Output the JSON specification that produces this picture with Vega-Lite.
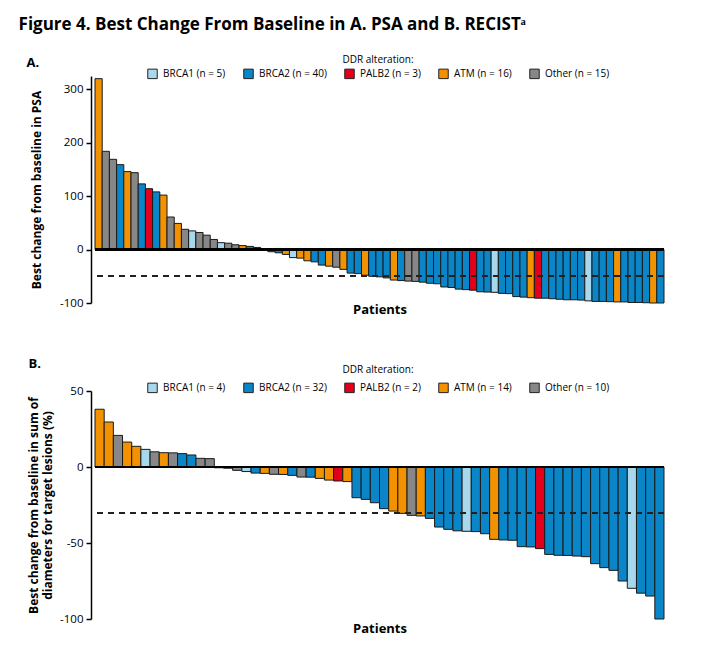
{
  "$schema": "https://vega.github.io/schema/vega-lite/v6.json",
  "padding": {"left": 18, "top": 16, "right": 10, "bottom": 5},
  "title": {"text": "Figure 4. Best Change From Baseline in A. PSA and B. RECISTᵃ", "anchor": "start", "frame": "bounds", "fontSize": 17, "fontWeight": "bold", "font": "Open Sans", "color": "#000", "offset": 21, "dx": -8},
  "datasets": {
    "psa": [
      {"patient": 1, "alteration": "ATM", "change": 320},
      {"patient": 2, "alteration": "Other", "change": 184},
      {"patient": 3, "alteration": "Other", "change": 169},
      {"patient": 4, "alteration": "BRCA2", "change": 159},
      {"patient": 5, "alteration": "ATM", "change": 146},
      {"patient": 6, "alteration": "Other", "change": 144},
      {"patient": 7, "alteration": "BRCA2", "change": 123},
      {"patient": 8, "alteration": "PALB2", "change": 114},
      {"patient": 9, "alteration": "BRCA2", "change": 108},
      {"patient": 10, "alteration": "ATM", "change": 102},
      {"patient": 11, "alteration": "Other", "change": 61},
      {"patient": 12, "alteration": "ATM", "change": 49},
      {"patient": 13, "alteration": "Other", "change": 38},
      {"patient": 14, "alteration": "BRCA1", "change": 35},
      {"patient": 15, "alteration": "Other", "change": 32},
      {"patient": 16, "alteration": "Other", "change": 27},
      {"patient": 17, "alteration": "Other", "change": 19},
      {"patient": 18, "alteration": "BRCA1", "change": 13},
      {"patient": 19, "alteration": "Other", "change": 12},
      {"patient": 20, "alteration": "Other", "change": 9},
      {"patient": 21, "alteration": "ATM", "change": 7.5},
      {"patient": 22, "alteration": "BRCA2", "change": 6},
      {"patient": 23, "alteration": "Other", "change": 4},
      {"patient": 24, "alteration": "ATM", "change": -0.5},
      {"patient": 25, "alteration": "Other", "change": -4},
      {"patient": 26, "alteration": "BRCA2", "change": -6},
      {"patient": 27, "alteration": "ATM", "change": -9},
      {"patient": 28, "alteration": "BRCA1", "change": -15},
      {"patient": 29, "alteration": "ATM", "change": -16},
      {"patient": 30, "alteration": "ATM", "change": -21},
      {"patient": 31, "alteration": "BRCA2", "change": -23},
      {"patient": 32, "alteration": "BRCA2", "change": -29},
      {"patient": 33, "alteration": "ATM", "change": -31},
      {"patient": 34, "alteration": "Other", "change": -33},
      {"patient": 35, "alteration": "ATM", "change": -37},
      {"patient": 36, "alteration": "BRCA2", "change": -44},
      {"patient": 37, "alteration": "BRCA2", "change": -45},
      {"patient": 38, "alteration": "ATM", "change": -48},
      {"patient": 39, "alteration": "BRCA2", "change": -50},
      {"patient": 40, "alteration": "BRCA2", "change": -51},
      {"patient": 41, "alteration": "BRCA2", "change": -53},
      {"patient": 42, "alteration": "ATM", "change": -57},
      {"patient": 43, "alteration": "BRCA2", "change": -58},
      {"patient": 44, "alteration": "Other", "change": -59},
      {"patient": 45, "alteration": "Other", "change": -59.5},
      {"patient": 46, "alteration": "BRCA2", "change": -61},
      {"patient": 47, "alteration": "BRCA2", "change": -63},
      {"patient": 48, "alteration": "BRCA2", "change": -64},
      {"patient": 49, "alteration": "BRCA2", "change": -70},
      {"patient": 50, "alteration": "BRCA2", "change": -71},
      {"patient": 51, "alteration": "BRCA2", "change": -74},
      {"patient": 52, "alteration": "BRCA2", "change": -75},
      {"patient": 53, "alteration": "PALB2", "change": -76},
      {"patient": 54, "alteration": "BRCA2", "change": -79},
      {"patient": 55, "alteration": "BRCA2", "change": -79.5},
      {"patient": 56, "alteration": "BRCA1", "change": -80},
      {"patient": 57, "alteration": "BRCA2", "change": -82},
      {"patient": 58, "alteration": "BRCA2", "change": -82.5},
      {"patient": 59, "alteration": "BRCA2", "change": -88},
      {"patient": 60, "alteration": "BRCA2", "change": -89},
      {"patient": 61, "alteration": "ATM", "change": -90},
      {"patient": 62, "alteration": "PALB2", "change": -91},
      {"patient": 63, "alteration": "BRCA2", "change": -91},
      {"patient": 64, "alteration": "BRCA2", "change": -92},
      {"patient": 65, "alteration": "BRCA2", "change": -93},
      {"patient": 66, "alteration": "BRCA2", "change": -94},
      {"patient": 67, "alteration": "BRCA2", "change": -94},
      {"patient": 68, "alteration": "BRCA2", "change": -94.5},
      {"patient": 69, "alteration": "BRCA1", "change": -96},
      {"patient": 70, "alteration": "BRCA2", "change": -97},
      {"patient": 71, "alteration": "BRCA2", "change": -97},
      {"patient": 72, "alteration": "BRCA2", "change": -97.5},
      {"patient": 73, "alteration": "ATM", "change": -98},
      {"patient": 74, "alteration": "BRCA2", "change": -98},
      {"patient": 75, "alteration": "BRCA2", "change": -99},
      {"patient": 76, "alteration": "BRCA2", "change": -99},
      {"patient": 77, "alteration": "BRCA2", "change": -99.5},
      {"patient": 78, "alteration": "ATM", "change": -100},
      {"patient": 79, "alteration": "BRCA2", "change": -100}
    ],
    "recist": [
      {"patient": 1, "alteration": "ATM", "change": 38},
      {"patient": 2, "alteration": "ATM", "change": 29.6},
      {"patient": 3, "alteration": "Other", "change": 20.8},
      {"patient": 4, "alteration": "ATM", "change": 16.4},
      {"patient": 5, "alteration": "ATM", "change": 13.6},
      {"patient": 6, "alteration": "BRCA1", "change": 11.6},
      {"patient": 7, "alteration": "Other", "change": 10},
      {"patient": 8, "alteration": "ATM", "change": 9.4},
      {"patient": 9, "alteration": "Other", "change": 9.3},
      {"patient": 10, "alteration": "BRCA2", "change": 8.8},
      {"patient": 11, "alteration": "BRCA2", "change": 7.9},
      {"patient": 12, "alteration": "Other", "change": 5.7},
      {"patient": 13, "alteration": "Other", "change": 5.5},
      {"patient": 14, "alteration": "Other", "change": -0.5},
      {"patient": 15, "alteration": "BRCA2", "change": -0.8},
      {"patient": 16, "alteration": "Other", "change": -2.2},
      {"patient": 17, "alteration": "BRCA1", "change": -3},
      {"patient": 18, "alteration": "BRCA2", "change": -4},
      {"patient": 19, "alteration": "ATM", "change": -4.2},
      {"patient": 20, "alteration": "Other", "change": -4.8},
      {"patient": 21, "alteration": "ATM", "change": -4.9},
      {"patient": 22, "alteration": "BRCA2", "change": -5.5},
      {"patient": 23, "alteration": "Other", "change": -6.6},
      {"patient": 24, "alteration": "BRCA2", "change": -6.7},
      {"patient": 25, "alteration": "ATM", "change": -7.5},
      {"patient": 26, "alteration": "ATM", "change": -8.6},
      {"patient": 27, "alteration": "PALB2", "change": -9.2},
      {"patient": 28, "alteration": "ATM", "change": -9.6},
      {"patient": 29, "alteration": "BRCA2", "change": -20.2},
      {"patient": 30, "alteration": "BRCA2", "change": -21.3},
      {"patient": 31, "alteration": "BRCA2", "change": -23.5},
      {"patient": 32, "alteration": "BRCA2", "change": -27.4},
      {"patient": 33, "alteration": "ATM", "change": -29},
      {"patient": 34, "alteration": "ATM", "change": -30.5},
      {"patient": 35, "alteration": "Other", "change": -31.8},
      {"patient": 36, "alteration": "ATM", "change": -32.2},
      {"patient": 37, "alteration": "BRCA2", "change": -33.8},
      {"patient": 38, "alteration": "BRCA2", "change": -39.5},
      {"patient": 39, "alteration": "BRCA2", "change": -41},
      {"patient": 40, "alteration": "BRCA2", "change": -42},
      {"patient": 41, "alteration": "BRCA1", "change": -42.3},
      {"patient": 42, "alteration": "BRCA2", "change": -42.5},
      {"patient": 43, "alteration": "BRCA2", "change": -43.9},
      {"patient": 44, "alteration": "ATM", "change": -47.6},
      {"patient": 45, "alteration": "BRCA2", "change": -48},
      {"patient": 46, "alteration": "BRCA2", "change": -48.2},
      {"patient": 47, "alteration": "BRCA2", "change": -52.4},
      {"patient": 48, "alteration": "BRCA2", "change": -52.6},
      {"patient": 49, "alteration": "PALB2", "change": -53.7},
      {"patient": 50, "alteration": "BRCA2", "change": -57.5},
      {"patient": 51, "alteration": "BRCA2", "change": -58.1},
      {"patient": 52, "alteration": "BRCA2", "change": -58.2},
      {"patient": 53, "alteration": "BRCA2", "change": -58.6},
      {"patient": 54, "alteration": "BRCA2", "change": -59},
      {"patient": 55, "alteration": "BRCA2", "change": -63.6},
      {"patient": 56, "alteration": "BRCA2", "change": -66.2},
      {"patient": 57, "alteration": "BRCA2", "change": -68},
      {"patient": 58, "alteration": "BRCA2", "change": -75},
      {"patient": 59, "alteration": "BRCA1", "change": -79.8},
      {"patient": 60, "alteration": "BRCA2", "change": -83},
      {"patient": 61, "alteration": "BRCA2", "change": -84.9},
      {"patient": 62, "alteration": "BRCA2", "change": -100}
    ]
  },
  "vconcat": [
    {
      "title": {"text": "A.", "anchor": "start", "frame": "bounds", "fontSize": 13, "fontWeight": "bold", "offset": -15, "dx": -4},
      "width": 569,
      "height": 227,
      "data": {"name": "psa"},
      "layer": [
        {
          "mark": {"type": "bar", "stroke": "#1a1a1a", "strokeWidth": 1},
          "encoding": {
            "x": {"field": "patient", "type": "ordinal", "sort": null,
              "scale": {"paddingInner": 0, "paddingOuter": 0},
              "axis": {"title": "Patients", "labels": false, "ticks": false, "domain": false, "titlePadding": 0}},
            "y": {"field": "change", "type": "quantitative",
              "scale": {"domain": [-100, 325], "nice": false},
              "axis": {"title": "Best change from baseline in PSA", "titlePadding": 16, "values": [-100, -50, 0, 50, 100, 150, 200, 250, 300], "labelExpr": "datum.value < 0 ? '-' + abs(datum.value) : '' + datum.value"}},
            "color": {"field": "alteration", "type": "nominal",
              "scale": {"domain": ["BRCA1", "BRCA2", "PALB2", "ATM", "Other"], "range": ["#a8d8ec", "#0a86c8", "#e2001a", "#f39200", "#878787"]},
              "legend": {"title": "DDR alteration:", "orient": "none", "legendX": 52, "legendY": -21, "direction": "horizontal", "columns": 5,
                "labelExpr": "datum.label == 'BRCA1' ? 'BRCA1 (n = 5)' : datum.label == 'BRCA2' ? 'BRCA2 (n = 40)' : datum.label == 'PALB2' ? 'PALB2 (n = 3)' : datum.label == 'ATM' ? 'ATM (n = 16)' : 'Other (n = 15)'"}}
          }
        },
        {"mark": {"type": "rule", "color": "#222", "strokeWidth": 1.3, "strokeDash": [6, 5]}, "encoding": {"y": {"datum": -50}}},
        {"mark": {"type": "rule", "color": "#000", "strokeWidth": 1.5}, "encoding": {"y": {"datum": 0}}}
      ]
    },
    {
      "title": {"text": "B.", "anchor": "start", "frame": "bounds", "fontSize": 13, "fontWeight": "bold", "offset": -6, "dx": 1},
      "width": 569,
      "height": 228,
      "data": {"name": "recist"},
      "layer": [
        {
          "mark": {"type": "bar", "stroke": "#1a1a1a", "strokeWidth": 1},
          "encoding": {
            "x": {"field": "patient", "type": "ordinal", "sort": null,
              "scale": {"paddingInner": 0, "paddingOuter": 0},
              "axis": {"title": "Patients", "labels": false, "ticks": false, "domain": false, "titlePadding": 3}},
            "y": {"field": "change", "type": "quantitative",
              "scale": {"domain": [-100, 50], "nice": false},
              "axis": {"title": ["Best change from baseline in sum of", "diameters for target lesions (%)"], "titlePadding": 5, "values": [-100, -50, 0, 50], "labelExpr": "datum.value < 0 ? '-' + abs(datum.value) : '' + datum.value"}},
            "color": {"field": "alteration", "type": "nominal",
              "scale": {"domain": ["BRCA1", "BRCA2", "PALB2", "ATM", "Other"], "range": ["#a8d8ec", "#0a86c8", "#e2001a", "#f39200", "#878787"]},
              "legend": {"title": "DDR alteration:", "orient": "none", "legendX": 52, "legendY": -26, "titlePadding": 7, "direction": "horizontal", "columns": 5,
                "labelExpr": "datum.label == 'BRCA1' ? 'BRCA1 (n = 4)' : datum.label == 'BRCA2' ? 'BRCA2 (n = 32)' : datum.label == 'PALB2' ? 'PALB2 (n = 2)' : datum.label == 'ATM' ? 'ATM (n = 14)' : 'Other (n = 10)'"}}
          }
        },
        {"mark": {"type": "rule", "color": "#222", "strokeWidth": 1.3, "strokeDash": [6, 5]}, "encoding": {"y": {"datum": -30}}},
        {"mark": {"type": "rule", "color": "#000", "strokeWidth": 1.5}, "encoding": {"y": {"datum": 0}}}
      ]
    }
  ],
  "spacing": 42,
  "resolve": {"scale": {"color": "independent", "x": "independent", "y": "independent"}},
  "config": {
    "font": "Open Sans",
    "view": {"stroke": null},
    "title": {"color": "#000"},
    "axis": {"labelColor": "#000", "titleColor": "#000", "titleFontWeight": "bold", "titleFontSize": 12, "labelFontSize": 11.5, "grid": false},
    "axisX": {"titleFontSize": 13},
    "axisY": {"domainColor": "#000", "domainWidth": 1.5, "tickColor": "#000", "tickWidth": 1.5, "tickSize": 5, "offset": 4, "labelPadding": 3},
    "legend": {"symbolType": "square", "symbolSize": 90, "symbolStrokeColor": "#222", "symbolStrokeWidth": 1, "labelFontSize": 10, "titleFontSize": 10, "titleFontWeight": "normal", "titleAnchor": "middle", "columnPadding": 15, "labelOffset": 5, "labelColor": "#000", "titleColor": "#000", "titlePadding": 3}
  }
}
